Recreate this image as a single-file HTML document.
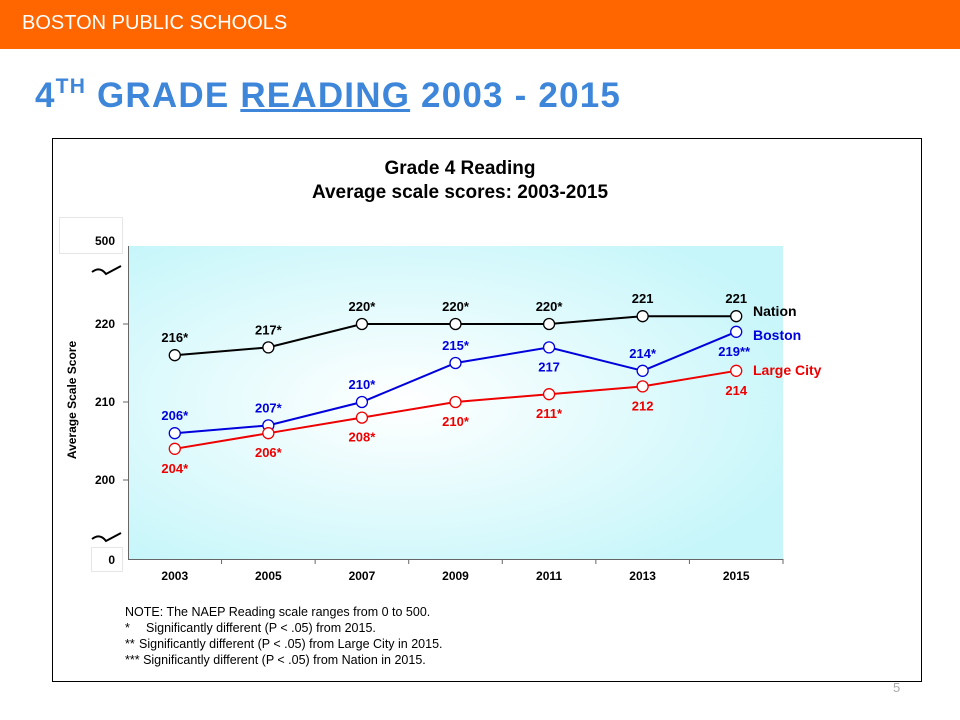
<!DOCTYPE html>
<html><head><meta charset="utf-8"><style>
body{margin:0;width:960px;height:720px;background:#fff;position:relative;overflow:hidden;font-family:"Liberation Sans",sans-serif}
#hdr{position:absolute;left:0;top:0;width:960px;height:49px;background:#ff6600}
#hdr span{position:absolute;left:22px;top:12px;color:#fff;font-size:20px;letter-spacing:0px}
#title{position:absolute;left:35px;top:75px;color:#3d86d9;font-size:35px;font-weight:bold;white-space:nowrap;letter-spacing:1.2px}
#title sup{font-size:21px;vertical-align:14px}
#pg{position:absolute;left:893px;top:680px;color:#aaa;font-size:13px}
</style></head><body>
<div id="hdr"><span>BOSTON PUBLIC SCHOOLS</span></div>
<div id="title">4<sup>TH</sup> GRADE <u>READING</u> 2003 - 2015</div>
<svg width="960" height="720" style="position:absolute;left:0;top:0" id="chart">
<defs><radialGradient id="bg" cx="0.42" cy="0.5" r="0.65"><stop offset="0" stop-color="#ffffff"/><stop offset="1" stop-color="#c6f6fa"/></radialGradient></defs>
<rect x="52.5" y="138.5" width="869" height="543" fill="#fff" stroke="#000"/>
<text x="460" y="174" text-anchor="middle" font-size="19" font-weight="bold">Grade 4 Reading</text>
<text x="460" y="198" text-anchor="middle" font-size="19" font-weight="bold">Average scale scores: 2003-2015</text>
<rect x="128" y="246" width="655" height="313" fill="url(#bg)"/>
<rect x="59.5" y="217.5" width="63" height="36" fill="#fff" stroke="#e6e6e6"/>
<rect x="91.5" y="547.5" width="31" height="24" fill="#fff" stroke="#e6e6e6"/>
<line x1="128.5" y1="246" x2="128.5" y2="560" stroke="#666"/>
<line x1="128" y1="559.5" x2="783" y2="559.5" stroke="#666"/>
<text x="115" y="245" text-anchor="end" font-size="12" font-weight="bold">500</text>
<text x="115" y="564" text-anchor="end" font-size="12" font-weight="bold">0</text>
<path d="M92 272 Q100 266 106 274 L121 266" fill="none" stroke="#000" stroke-width="2"/>
<path d="M92 539 Q100 533 106 541 L121 533" fill="none" stroke="#000" stroke-width="2"/>
<text transform="translate(76,400) rotate(-90)" text-anchor="middle" font-size="12" font-weight="bold">Average Scale Score</text>
<g id="axes"></g><g id="series"></g>
<g font-size="12.5">
<text x="125" y="616">NOTE: The NAEP Reading scale ranges from 0 to 500.</text>
<text x="125" y="632">*<tspan x="146">Significantly different (P &lt; .05) from 2015.</tspan></text>
<text x="125" y="648">**<tspan x="139">Significantly different (P &lt; .05) from Large City in 2015.</tspan></text>
<text x="125" y="664">*** Significantly different (P &lt; .05) from Nation in 2015.</text>
</g>
</svg>
<div id="pg">5</div>
<script>
const years=['2003','2005','2007','2009','2011','2013','2015'];
const yTicks=[200,210,220];
const nation=[216,217,220,220,220,221,221];
const nationLbl=['216*','217*','220*','220*','220*','221','221'];
const boston=[206,207,210,215,217,214,219];
const bostonLbl=['206*','207*','210*','215*','217','214*','219**'];
const city=[204,206,208,210,211,212,214];
const cityLbl=['204*','206*','208*','210*','211*','212','214'];
const NS='http://www.w3.org/2000/svg';
const X0=128,W=655,step=W/years.length;
const x=i=>X0+step*(i+0.5);
const y=v=>324+(220-v)*7.8;
function el(t,a,p){const e=document.createElementNS(NS,t);for(const k in a)e.setAttribute(k,a[k]);p.appendChild(e);return e;}
const ax=document.getElementById('axes'),sr=document.getElementById('series');
years.forEach((yr,i)=>{
 const t=el('text',{x:x(i),y:580,'text-anchor':'middle','font-size':12,'font-weight':'bold'},ax);t.textContent=yr;
 
 
 el('line',{x1:X0+step*(i+1),x2:X0+step*(i+1),y1:559,y2:564,stroke:'#666'},ax);
});
yTicks.forEach(v=>{
 const t=el('text',{x:115,y:y(v)+4,'text-anchor':'end','font-size':12,'font-weight':'bold'},ax);t.textContent=v;
 
 
 el('line',{x1:123,x2:128,y1:y(v),y2:y(v),stroke:'#666'},ax);
});
function series(vals,lbls,col,name,off,legendY){
 const g=el('g',{},sr);
 
 
 el('polyline',{points:vals.map((v,i)=>x(i)+','+y(v)).join(' '),fill:'none',stroke:col,'stroke-width':2},g);
 vals.forEach((v,i)=>{
  const c=el('circle',{cx:x(i),cy:y(v),r:5.5,fill:'#fff',stroke:col,'stroke-width':1.3},g);
  
  
  const o=off(i);
  const t=el('text',{x:x(i)+(o[0]||0),y:y(v)+o[1],'text-anchor':'middle','font-size':13,'font-weight':'bold',fill:col},g);
  t.textContent=lbls[i];
  
  
 });
 const L=el('text',{x:753,y:y(vals[vals.length-1])+legendY,'font-size':14,'font-weight':'bold',fill:col},g);
 L.textContent={nation:'Nation',boston:'Boston','large-city':'Large City'}[name];
 
 
}
series(nation,nationLbl,'#000','nation',()=>[0,-13],0);
series(boston,bostonLbl,'#0000dd','boston',i=>(i==6?[-2,24]:(i==4?[0,24]:[0,-13])),8);
series(city,cityLbl,'#ee0000','large-city',()=>[0,24],4);
</script>
</body></html>
